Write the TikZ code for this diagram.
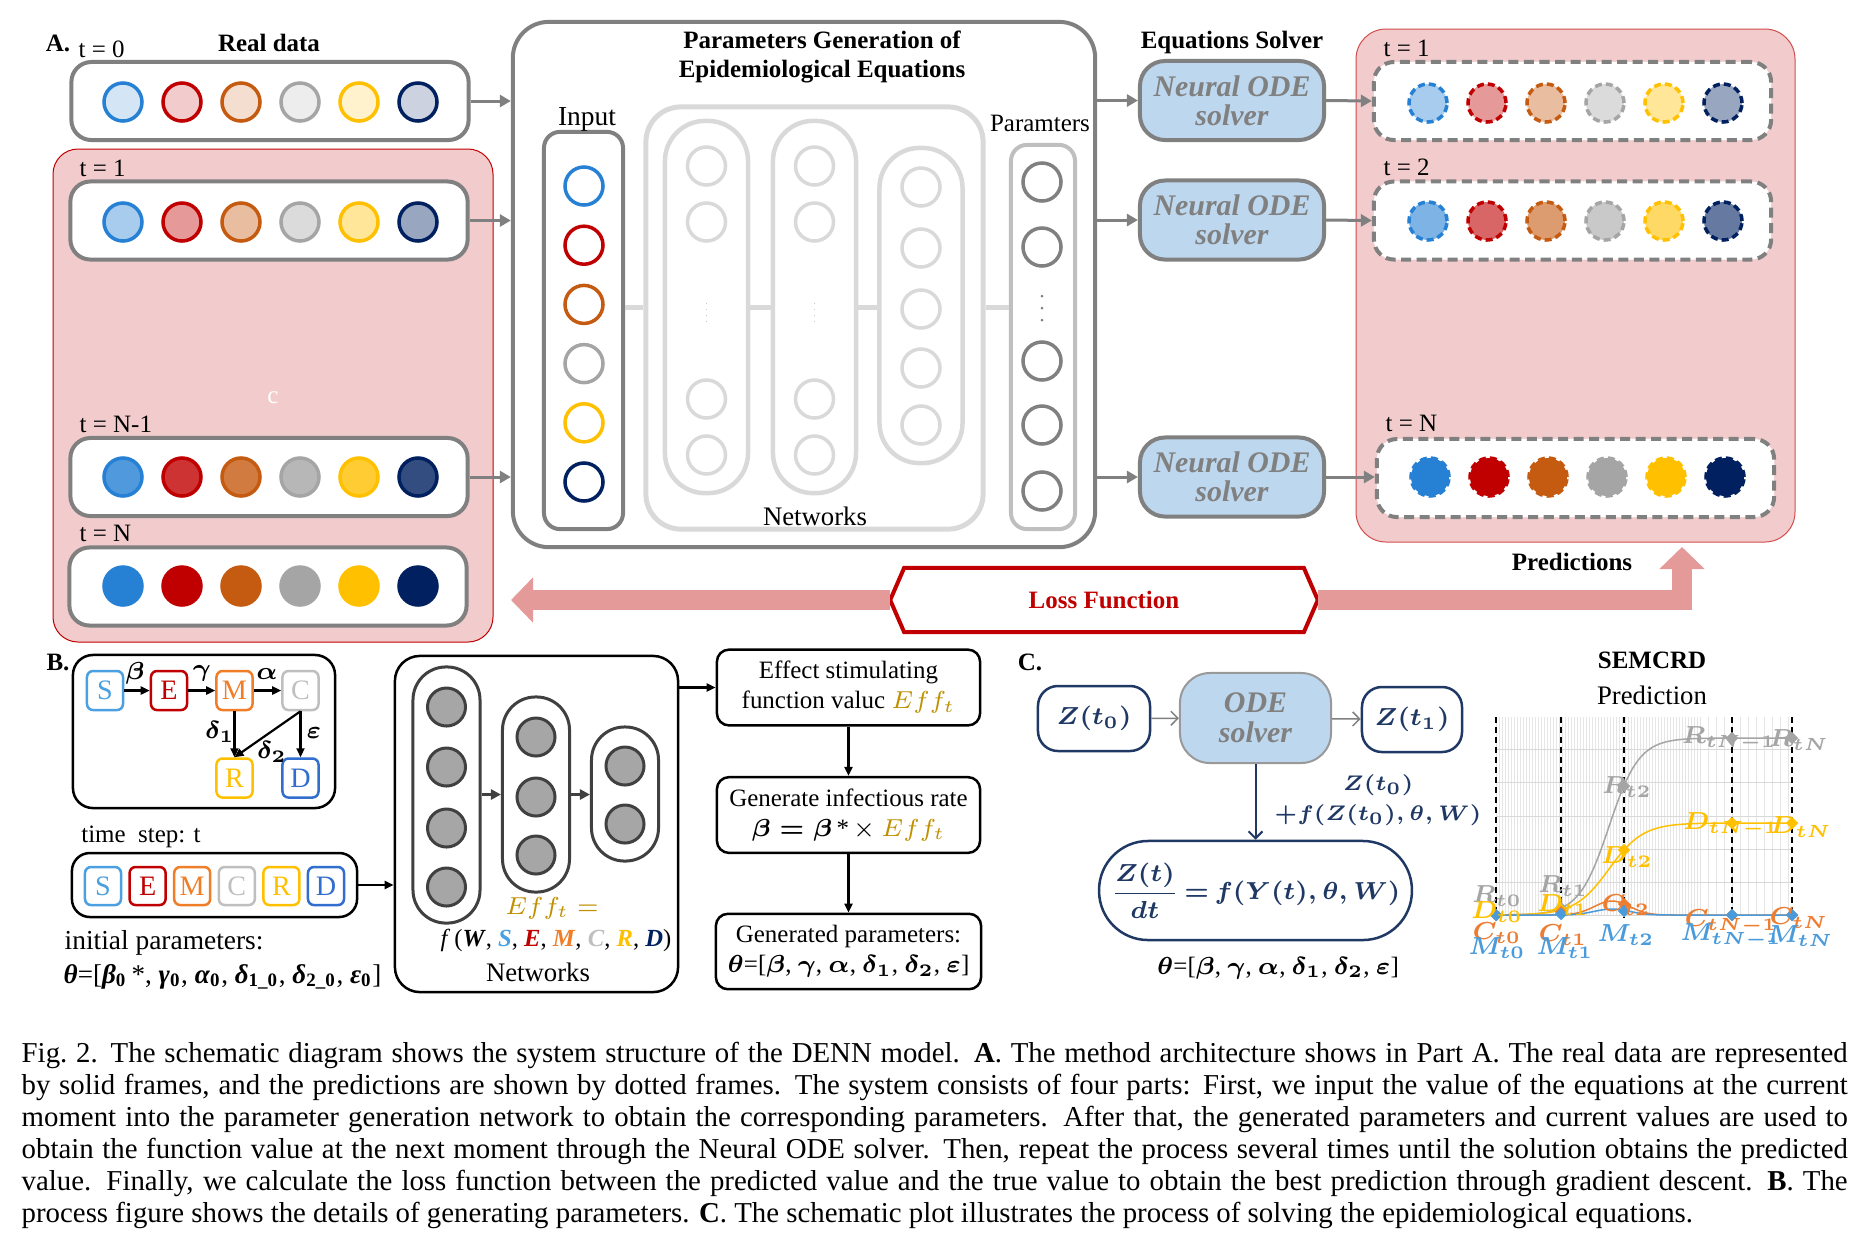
\documentclass[tikz,border=0pt]{standalone}
\usepackage{fontspec}
\setmainfont{Liberation Serif}
\usepackage{amsmath,bm}
\usetikzlibrary{arrows.meta,positioning,calc,shapes.geometric}
\newcommand{\boldeq}[1]{{\boldmath$#1$}}
\newcommand{\grsub}[2]{\textbf{\textit{#1}}\textsubscript{\textbf{#2}}}
\definecolor{cblue}{RGB}{38,128,212}
\definecolor{cred}{RGB}{192,0,0}
\definecolor{corange}{RGB}{197,90,17}
\definecolor{cgray}{RGB}{165,165,165}
\definecolor{cgold}{RGB}{255,192,0}
\definecolor{cnavy}{RGB}{0,32,96}
\definecolor{framegray}{RGB}{128,128,128}
\definecolor{lightnet}{RGB}{217,217,217}
\definecolor{paramgray}{RGB}{191,191,191}
\definecolor{pinkbg}{RGB}{242,204,205}
\definecolor{lossband}{RGB}{229,154,154}
\definecolor{solverblue}{RGB}{189,215,238}
\definecolor{zblue}{RGB}{31,56,100}
\definecolor{effgold}{RGB}{191,144,0}
\definecolor{netdark}{RGB}{64,64,64}
\definecolor{netfill}{RGB}{166,166,166}
\definecolor{sS}{RGB}{74,160,225}
\definecolor{sM}{RGB}{240,125,40}
\definecolor{sC}{RGB}{191,191,191}
\definecolor{sD}{RGB}{50,110,205}
\definecolor{chR}{RGB}{165,165,165}
\definecolor{chC}{RGB}{237,125,49}
\definecolor{chM}{RGB}{74,155,220}

\begin{document}
\begin{tikzpicture}[x=0.01cm,y=-0.01cm,font=\fontsize{7.1}{8.5}\selectfont]
\useasboundingbox (0,0) rectangle (1872,1250);
\tikzset{
 boldlabel/.style={font=\fontsize{7.1}{8.5}\selectfont\bfseries},
 leftlabel/.style={anchor=west,inner sep=0pt},
 rowbox/.style={draw=framegray,line width=0.04cm,rounded corners=0.2cm,fill=white,minimum width=3.97cm,minimum height=0.78cm},
 predbox/.style={rowbox,dash pattern=on 0.1cm off 0.055cm},
 dot/.style={circle,inner sep=0pt,minimum size=0.38cm,line width=0.035cm},
 pdot/.style={dot,dash pattern=on 0.07cm off 0.04cm},
 pill/.style={draw=lightnet,line width=0.045cm,minimum width=0.83cm,rounded corners=0.4cm},
 netline/.style={draw=lightnet,line width=0.05cm},
 garrow/.style={draw=framegray,line width=0.03cm,-{Triangle[length=0.11cm,width=0.12cm]}},
 solver/.style={draw=framegray,fill=solverblue,line width=0.04cm,rounded corners=0.25cm,minimum width=1.84cm,minimum height=0.79cm,align=center,text=framegray,font=\fontsize{8.5}{8.3}\selectfont\bfseries\itshape},
 lossarrow/.style={draw=lossband,line width=0.2cm,line join=miter,-{Triangle[length=0.22cm,width=0.44cm]}},
 comp/.style={line width=0.025cm,rounded corners=0.06cm,minimum width=0.36cm,minimum height=0.39cm,inner sep=0pt,fill=white,font=\fontsize{8}{9}\selectfont},
 barrow/.style={draw=black,line width=0.022cm,-{Triangle[length=0.09cm,width=0.08cm]}},
 bbox/.style={draw=black,line width=0.025cm,fill=white},
 ndot/.style={circle,inner sep=0pt,minimum size=0.38cm,line width=0.03cm,draw=netdark,fill=netfill},
 npill/.style={draw=netdark,line width=0.03cm,minimum width=0.67cm,rounded corners=0.33cm},
 zbox/.style={draw=zblue,line width=0.025cm,rounded corners=0.2cm,text=zblue},
 carrow/.style={draw=framegray,line width=0.015cm,-{Straight Barb[length=0.07cm,width=0.14cm]}},
 gridline/.style={draw=black!10,line width=0.006cm},
 chmark/.style={diamond,inner sep=0pt,minimum size=0.13cm},
 chlabel/.style={inner sep=0pt,font=\fontsize{6.8}{8}\selectfont},
 netdots/.style={draw=black!22,line width=0.015cm,dash pattern=on 0.015cm off 0.045cm},
 smalldot/.style={circle,fill=framegray,inner sep=0pt,minimum size=0.03cm},
}

%%% A. real data
\node[boldlabel] (labA) at (58,43) {A.};
\node[leftlabel] (lt0) at (78,49) {t = 0};
\node[boldlabel] (realtitle) at (269,43) {Real data};
\fill[pinkbg,draw=cred,line width=0.01cm,rounded corners=0.25cm] (53,149) rectangle (493,642);
\node[rowbox] (real0) at (270,101) {};
\node[rowbox] (real1) at (269,220.5) {};
\node[rowbox] (realN1) at (269,477) {};
\node[rowbox] (realN) at (268,586.5) {};
\node[leftlabel] (lt1) at (79,168) {t = 1};
\node[leftlabel] (ltN1) at (79,424) {t = N-1};
\node[leftlabel] (ltN) at (79,533) {t = N};
\node[text=white] (stray) at (273,398) {c};

%%% parameter generation
\node[draw=framegray,line width=0.04cm,rounded corners=0.36cm,minimum width=5.82cm,minimum height=5.25cm] (pg) at (804,284.5) {};
\node[boldlabel,align=center] (pgtitle) at (822,57) {Parameters Generation of\\Epidemiological Equations};
\node[draw=framegray,line width=0.04cm,rounded corners=0.16cm,minimum width=0.79cm,minimum height=3.97cm] (inbox) at (583.5,330.5) {};
\node[font=\fontsize{7.8}{9}\selectfont] (inlbl) at (587,119) {Input};
\node[draw=lightnet,line width=0.05cm,rounded corners=0.35cm,minimum width=3.37cm,minimum height=4.22cm] (netbox) at (814.5,318) {};
\node[font=\fontsize{7.6}{9}\selectfont] (netlbl) at (815,516) {Networks};
\node[pill,minimum height=3.72cm] (pc1) at (706.5,307) {};
\node[pill,minimum height=3.72cm] (pc2) at (814.5,307) {};
\node[pill,minimum height=3.15cm] (pc3) at (921,305.5) {};
\node[draw=paramgray,line width=0.04cm,rounded corners=0.16cm,minimum width=0.64cm,minimum height=3.84cm] (outbox) at (1043,337) {};
\node (outlbl) at (1040,123) {Paramters};

\foreach \py [count=\i] in {166,222,399,455} {
  \node[dot,draw=lightnet,fill=white] (c1n\i) at (706.5,\py) {};
  \node[dot,draw=lightnet,fill=white] (c2n\i) at (814.5,\py) {};
}
\foreach \py [count=\i] in {187,248,309,368,425}
  \node[dot,draw=lightnet,fill=white] (c3n\i) at (921,\py) {};
\foreach \py [count=\i] in {182,247,361,425,491}
  \node[dot,draw=framegray,fill=white] (on\i) at (1042,\py) {};
\draw[netdots,shorten <=0.6cm,shorten >=0.55cm] (c1n2) -- (c1n3);
\draw[netdots,shorten <=0.6cm,shorten >=0.55cm] (c2n2) -- (c2n3);
\foreach \py [count=\i] in {296,308,320}
  \node[smalldot] (odot\i) at (1042,\py) {};

\draw[netline] (inbox.east |- pc1.center) -- (netbox.west |- pc1.center);
\draw[netline] (pc1.east) -- (pc2.west);
\draw[netline] (pc2.east) -- (pc3.west |- pc2.east);
\draw[netline] (netbox.east |- pc1.center) -- (outbox.west |- pc1.center);

%%% circles of every row
\foreach \col [count=\i from 0] in {cblue,cred,corange,cgray,cgold,cnavy} {
  \node[dot,draw=\col,fill=\col!20] (real0c\i) at (123+59*\i,102) {};
  \node[dot,draw=\col,fill=\col!40] (real1c\i) at (123+59*\i,222) {};
  \node[dot,draw=\col,fill=\col!80] (realN1c\i) at (123+59*\i,477) {};
  \node[dot,draw=\col,fill=\col] (realNc\i) at (123+59*\i,586) {};
  \node[dot,draw=\col,fill=white] (inc\i) at (584,186+59.2*\i) {};
}

\draw[garrow] (real0.east) -- (pg.west |- real0.east);
\draw[garrow] (real1.east) -- (pg.west |- real1.east);
\draw[garrow] (realN1.east) -- (pg.west |- realN1.east);

%%% solvers
\node[boldlabel] (soltitle) at (1232,42) {Equations Solver};
\node[solver] (solv1) at (1232,100.5) {Neural ODE\\solver};
\node[solver] (solv2) at (1232,220) {Neural ODE\\solver};
\node[solver] (solv3) at (1232,477) {Neural ODE\\solver};
\draw[garrow] (pg.east |- solv1.west) -- (solv1.west);
\draw[garrow] (pg.east |- solv2.west) -- (solv2.west);
\draw[garrow] (pg.east |- solv3.west) -- (solv3.west);

%%% predictions
\fill[pinkbg,draw=cred!70,line width=0.01cm,rounded corners=0.3cm] (1356,29) rectangle (1795,542);
\node[predbox] (pred1) at (1572.5,101) {};
\node[predbox] (pred2) at (1572.5,220.5) {};
\node[predbox] (predN) at (1575.5,478) {};
\node[leftlabel] (pt1) at (1383,48) {t = 1};
\node[leftlabel] (pt2) at (1383,167) {t = 2};
\node[leftlabel] (ptN) at (1385,423) {t = N};
\foreach \col [count=\i from 0] in {cblue,cred,corange,cgray,cgold,cnavy} {
  \node[pdot,draw=\col,fill=\col!40] (pred1c\i) at (1428+59*\i,103) {};
  \node[pdot,draw=\col,fill=\col!60] (pred2c\i) at (1428+59*\i,221) {};
  \node[pdot,draw=\col,fill=\col] (predNc\i) at (1430+59*\i,477) {};
}
\draw[garrow] (solv1.east) -- (pred1.west);
\draw[garrow] (solv2.east) -- (pred2.west);
\draw[garrow] (solv3.east) -- (predN.west |- solv3.east);
\node[boldlabel] (predlbl) at (1572,562) {Predictions};

%%% loss function
\node[boldlabel,minimum width=4.26cm,minimum height=0.63cm,inner sep=0pt,text=cred] (loss) at (1104,600) {Loss Function};
\draw[cred,line width=0.04cm] (loss.west) -- ([xshift=0.14cm]loss.north west) -- ([xshift=-0.14cm]loss.north east)
  -- (loss.east) -- ([xshift=-0.14cm]loss.south east) -- ([xshift=0.14cm]loss.south west) -- cycle;
\coordinate (losstip) at (511,600);
\coordinate (predtip) at (1682,547);
\draw[lossarrow] (loss.west) -- (losstip);
\draw[lossarrow] (loss.east) -- (predtip |- loss.east) -- (predtip);

%%% B. parameters
\node[boldlabel] (labB) at (58,662) {B.};
\node[bbox,rounded corners=0.2cm,minimum width=2.62cm,minimum height=1.53cm] (semcrd) at (204,731.5) {};
\node[comp,draw=sS,text=sS] (kS) at (105,690.5) {S};
\node[comp,draw=cred,text=cred] (kE) at (169,690.5) {E};
\node[comp,draw=sM,text=sM] (kM) at (234.5,690.5) {M};
\node[comp,draw=sC,text=sC] (kC) at (300.5,690.5) {C};
\node[comp,draw=cgold,text=cgold] (kR) at (234.5,778) {R};
\node[comp,draw=sD,text=sD] (kD) at (300.5,778) {D};
\draw[barrow] (kS) -- (kE);
\draw[barrow] (kE) -- (kM);
\draw[barrow] (kM) -- (kC);
\draw[barrow] (kM) -- (kR);
\draw[barrow] (kC.south) -- (kR.north);
\draw[barrow] (kC.south) -- (kD.north);
\node (rbeta) at (135,673) {\boldeq{\beta}};
\node (rgamma) at (202,673) {\boldeq{\gamma}};
\node (ralpha) at (267,674) {\boldeq{\alpha}};
\node (rdelta1) at (220,732) {\boldeq{\delta_1}};
\node (rdelta2) at (272,752) {\boldeq{\delta_2}};
\node (reps) at (314,733) {\boldeq{\varepsilon}};

\node (tstep) at (141,837) {time\ \ step: t};
\node[bbox,rounded corners=0.18cm,minimum width=2.85cm,minimum height=0.64cm] (initbox) at (214.5,885) {};
\foreach \nm/\col [count=\i from 0] in {S/sS,E/cred,M/sM,C/sC,R/cgold,D/sD}
  \node[comp,draw=\col,text=\col,minimum height=0.38cm] (i\nm) at (103+44.6*\i,886) {\nm};
\node[leftlabel,font=\fontsize{7.8}{9}\selectfont] (initlbl) at (64,943) {initial parameters:};
\node[leftlabel,font=\fontsize{7.7}{9}\selectfont] (inittheta) at (63,977) {\textbf{\textit{θ}}=[\grsub{β}{0}\,*, \grsub{γ}{0}, \grsub{α}{0}, \grsub{δ}{1\_0}, \grsub{δ}{2\_0}, \grsub{ε}{0}]};

\node[bbox,rounded corners=0.25cm,minimum width=2.83cm,minimum height=3.36cm] (bnet) at (536.5,824) {};
\node[npill,minimum height=2.56cm] (bp1) at (446.5,795) {};
\node[npill,minimum height=1.95cm] (bp2) at (536,794.5) {};
\node[npill,minimum height=1.34cm] (bp3) at (625,794) {};
\foreach \py [count=\i] in {707,767,828,887}
  \node[ndot] (b1n\i) at (446.5,\py) {};
\foreach \py [count=\i] in {737,797,855}
  \node[ndot] (b2n\i) at (536,\py) {};
\foreach \py [count=\i] in {766,824}
  \node[ndot] (b3n\i) at (625,\py) {};
\draw[draw=netdark,line width=0.03cm,-{Triangle[length=0.1cm,width=0.1cm]}] (bp1.east |- bp2.center) -- (bp2.west);
\draw[draw=netdark,line width=0.03cm,-{Triangle[length=0.1cm,width=0.1cm]}] (bp2.east) -- (bp3.west |- bp2.east);
\node[text=effgold] (effeq) at (552,908) {$Eff_t=$};
\node[font=\fontsize{7}{9}\selectfont] (ffun) at (556,940) {\textit{f}\,(\textbf{\textit{W}}, \textcolor{sS}{\textbf{\textit{S}}}, \textcolor{cred}{\textbf{\textit{E}}}, \textcolor{sM}{\textbf{\textit{M}}}, \textcolor{sC}{\textbf{\textit{C}}}, \textcolor{cgold}{\textbf{\textit{R}}}, \textcolor{cnavy}{\textbf{\textit{D}}})};
\node[font=\fontsize{7.6}{9}\selectfont] (bnetlbl) at (538,972) {Networks};
\draw[barrow] (initbox.east) -- (bnet.west |- initbox.east);

\node[bbox,rounded corners=0.12cm,minimum width=2.63cm,minimum height=0.65cm,align=center] (eff) at (848.5,687.5) {Effect stimulating\\function valuc \textcolor{effgold}{$Eff_t$}};
\node[bbox,rounded corners=0.12cm,minimum width=2.63cm,minimum height=0.64cm,align=center] (gen) at (848.5,815) {Generate infectious rate\\\boldeq{\beta=\beta}\,*\,$\times$ \textcolor{effgold}{$Eff_t$}};
\node[bbox,rounded corners=0.12cm,minimum width=2.63cm,minimum height=0.63cm,align=center] (genp) at (848.5,951.5) {Generated parameters:\\\boldeq{\theta}=[\boldeq{\beta}, \boldeq{\gamma}, \boldeq{\alpha}, \boldeq{\delta_1}, \boldeq{\delta_2}, \boldeq{\varepsilon}]};
\draw[barrow] (bnet.east |- eff.west) -- (eff.west);
\draw[barrow] (eff) -- (gen);
\draw[barrow] (gen) -- (genp);

%%% C. ODE solver
\node[boldlabel] (labC) at (1030,662) {C.};
\node[zbox,minimum width=1.12cm,minimum height=0.65cm,font=\fontsize{6.6}{8}\selectfont] (zt0) at (1094,718.5) {\boldeq{Z(t_0)}};
\node[draw=framegray!80,fill=solverblue,line width=0.02cm,rounded corners=0.3cm,minimum width=1.51cm,minimum height=0.9cm,align=center,text=framegray,font=\fontsize{8.5}{8.5}\selectfont\bfseries\itshape] (ode) at (1255.5,718) {ODE\\solver};
\node[zbox,minimum width=1cm,minimum height=0.65cm,font=\fontsize{6.6}{8}\selectfont] (zt1) at (1412,719.5) {\boldeq{Z(t_1)}};
\node[zbox,rounded corners=0.49cm,minimum width=2.91cm,minimum height=0.99cm,font=\fontsize{6.6}{8}\selectfont] (zeq) at (1255.5,890.5) {\boldeq{\dfrac{Z(t)}{dt}\,{=}\,f(Y(t),\theta,W)}};
\draw[carrow] (zt0) -- (ode);
\draw[carrow] (ode) -- (zt1);
\draw[draw=zblue,line width=0.02cm,-{Straight Barb[length=0.07cm,width=0.14cm]}] (ode) -- (zeq);
\node[text=zblue,align=center,font=\fontsize{6.2}{8.5}\selectfont] (zstep) at (1378,800) {\boldeq{Z(t_0)}\\\boldeq{+f(Z(t_0),\theta,W)}};
\node (ctheta) at (1278,968) {\boldeq{\theta}=[\boldeq{\beta}, \boldeq{\gamma}, \boldeq{\alpha}, \boldeq{\delta_1}, \boldeq{\delta_2}, \boldeq{\varepsilon}]};

%%% SEMCRD prediction plot
\node[boldlabel] (semtitle) at (1652,660) {SEMCRD};
\node[font=\fontsize{7.6}{9}\selectfont] (semsub) at (1652,695) {Prediction};
\foreach \gx in {1496,1499,...,1700}
  \draw[gridline] (\gx,717) -- (\gx,915);
\foreach \gx in {1708,1716,...,1792}
  \draw[gridline] (\gx,717) -- (\gx,915);
\foreach \gy in {749,782,816,849,882,915}
  \draw[draw=black!15,line width=0.01cm] (1496,\gy) -- (1792,\gy);
\foreach \dx in {1496,1561,1624,1732,1792}
  \draw[black,line width=0.025cm,dash pattern=on 0.06cm off 0.04cm] (\dx,717) -- (\dx,918);
\draw[chR,line width=0.015cm] plot[domain=1496:1792,samples=90] (\x,{915-177/(1+exp(-(\x-1609)/15))});
\draw[cgold,line width=0.015cm] plot[domain=1496:1792,samples=90] (\x,{915-92/(1+exp(-(\x-1609)/17))});
\draw[chC,line width=0.015cm] (1496,915) -- plot[domain=1545:1680,samples=60] (\x,{915-14*exp(-((\x-1612)/25)^2)}) -- (1792,915);
\draw[chM,line width=0.015cm] (1496,915) -- plot[domain=1545:1680,samples=60] (\x,{915-6*exp(-((\x-1612)/25)^2)}) -- (1792,915);
\foreach \dx/\ry/\dy/\cy/\my [count=\k] in {1496/915/915/915/915,1561/908/910/912/914,1624/786/850/904/911,1732/738/823/915/915,1792/738/823/915/915} {
  \node[chmark,fill=chR] (mR\k) at (\dx,\ry) {};
  \node[chmark,fill=cgold] (mD\k) at (\dx,\dy) {};
  \node[chmark,fill=chC] (mC\k) at (\dx,\cy) {};
  \node[chmark,fill=chM] (mM\k) at (\dx,\my) {};
}
\foreach \lx/\ly/\lt [count=\k] in {1497/896/t0,1563/886/t1,1627/787/t2,1729/739/tN{-}1,1799/740/tN}
  \node[chlabel,text=chR] (lR\k) at (\lx,\ly) {\boldeq{R_{\lt}}};
\foreach \lx/\ly/\lt [count=\k] in {1497/912/t0,1563/905/t1,1627/857/t2,1731/825/tN{-}1,1801/827/tN}
  \node[chlabel,text=cgold] (lD\k) at (\lx,\ly) {\boldeq{D_{\lt}}};
\foreach \lx/\ly/\lt [count=\k] in {1497/933/t0,1563/935/t1,1626/905/t2,1731/922/tN{-}1,1799/918/tN}
  \node[chlabel,text=chC] (lC\k) at (\lx,\ly) {\boldeq{C_{\lt}}};
\foreach \lx/\ly/\lt [count=\k] in {1497/948/t0,1565/948/t1,1626/935/t2,1731/936/tN{-}1,1800/936/tN}
  \node[chlabel,text=chM] (lM\k) at (\lx,\ly) {\boldeq{M_{\lt}}};

%%% caption
\node[anchor=north west,inner sep=0pt,text width=18.25cm,align=justify,font=\fontsize{8.2}{9.1}\selectfont] (caption) at (21,1041) {\hyphenpenalty=10000\exhyphenpenalty=10000
Fig.~2.\hspace{0.45em}The schematic diagram shows the system structure of the DENN model. \textbf{A}. The method architecture shows in Part A. The real data are represented\linebreak
by solid frames, and the predictions are shown by dotted frames. The system consists of four parts: First, we input the value of the equations at the current\linebreak
moment into the parameter generation network to obtain the corresponding parameters. After that, the generated parameters and current values are used to\linebreak
obtain the function value at the next moment through the Neural ODE solver. Then, repeat the process several times until the solution obtains the predicted\linebreak
value. Finally, we calculate the loss function between the predicted value and the true value to obtain the best prediction through gradient descent. \textbf{B}. The\linebreak
process figure shows the details of generating parameters. \textbf{C}. The schematic plot illustrates the process of solving the epidemiological equations.};
\end{tikzpicture}
\end{document}
